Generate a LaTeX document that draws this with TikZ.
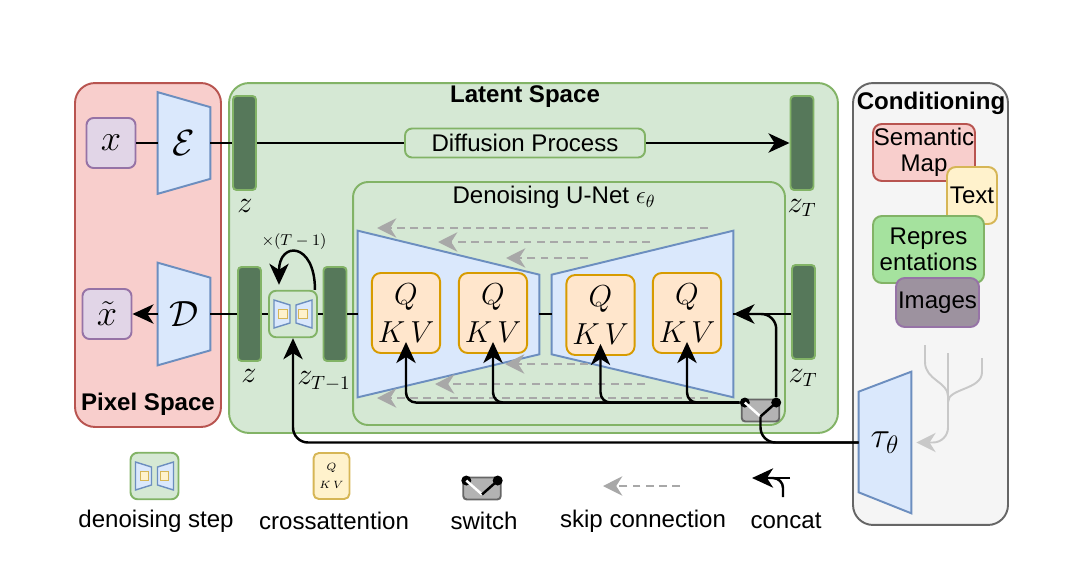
\documentclass[tikz,border=0pt]{standalone}
\usepackage{amsmath}
\usepackage{fontspec}
\setmainfont{Liberation Sans}
\usetikzlibrary{arrows.meta,positioning,calc}

\definecolor{redfill}{HTML}{F8CECC}
\definecolor{reddraw}{HTML}{B85450}
\definecolor{greenfill}{HTML}{D5E8D4}
\definecolor{greendraw}{HTML}{82B366}
\definecolor{grayfill}{HTML}{F5F5F5}
\definecolor{graydraw}{HTML}{666666}
\definecolor{bluefill}{HTML}{DAE8FC}
\definecolor{bluedraw}{HTML}{6C8EBF}
\definecolor{orangefill}{HTML}{FFE6CC}
\definecolor{orangedraw}{HTML}{D79B00}
\definecolor{yellowfill}{HTML}{FFF2CC}
\definecolor{yellowdraw}{HTML}{D6B656}
\definecolor{purplefill}{HTML}{E1D5E7}
\definecolor{purpledraw}{HTML}{9673A6}
\definecolor{barfill}{HTML}{56785A}
\definecolor{reprfill}{HTML}{A5E29E}
\definecolor{imgfill}{HTML}{9D929F}
\definecolor{switchfill}{HTML}{B3B3B3}
\definecolor{skipgray}{HTML}{A8A8A8}
\definecolor{condgray}{HTML}{C8C8C8}

\begin{document}
\begin{tikzpicture}[x=0.02cm,y=-0.02cm,>={Stealth[length=12pt,width=11pt,inset=3.5pt]},
  font=\fontsize{13.7}{16}\selectfont,
  space/.style={line width=1.1pt,rounded corners=0.4cm,inner sep=0},
  title/.style={font=\fontsize{13.7}{16}\selectfont\bfseries},
  latent/.style={draw=greendraw,fill=barfill,line width=1.1pt,rounded corners=2pt,
    minimum width=0.46cm,minimum height=1.88cm,inner sep=0},
  zlabel/.style={font=\fontsize{16}{18}\selectfont},
  coder/.style={inner sep=0,minimum width=1.04cm,font=\fontsize{20}{24}\selectfont},
  part/.style={draw=bluedraw,fill=bluefill,line width=1.1pt},
  imgbox/.style={draw=purpledraw,fill=purplefill,line width=1.1pt,rounded corners=4pt,
    minimum width=0.98cm,minimum height=1cm,font=\fontsize{20}{24}\selectfont},
  attn/.style={draw=orangedraw,fill=orangefill,line width=1.1pt,rounded corners=5pt,
    minimum width=1.24cm,minimum height=1.6cm,align=center,font=\fontsize{17}{22}\selectfont},
  stepbox/.style={draw=greendraw,fill=greenfill,line width=1.1pt,rounded corners=4pt,
    minimum width=0.96cm,minimum height=0.93cm},
  switchbox/.style={draw=graydraw,fill=switchfill,line width=1.1pt,rounded corners=2pt,
    minimum width=0.75cm,minimum height=0.44cm},
  swdot/.style={circle,fill=black,inner sep=0,minimum size=0.2cm},
  conn/.style={line width=1.4pt},
  skip/.style={draw=skipgray,line width=1.1pt,dash pattern=on 4.5pt off 3pt,
    -{Stealth[length=11pt,width=11pt,inset=3.5pt]}},
  condline/.style={draw=condgray,line width=1.1pt},
  cond/.style={line width=1.1pt,rounded corners=5pt,align=center,inner sep=0,
    font=\fontsize{13.7}{15}\selectfont}
]
\useasboundingbox (0,0) rectangle (1070,581);

% spaces
\node[space,draw=reddraw,fill=redfill,minimum width=2.92cm,minimum height=6.88cm] (pixel) at (148,255) {};
\node[space,draw=greendraw,fill=greenfill,minimum width=12.18cm,minimum height=7cm] (latentsp) at (533.5,258) {};
\node[space,draw=graydraw,fill=grayfill,minimum width=3.1cm,minimum height=8.84cm] (condsp) at (930.5,304) {};
\node[space,draw=greendraw,fill=greenfill,rounded corners=0.3cm,minimum width=8.64cm,minimum height=4.86cm] (unetsp) at (569,303.5) {};

\node[title] at (148,404) {Pixel Space};
\node[title] at (525,97) {Latent Space};
\node[title] at (931,103) {Conditioning};
\node at (554,197) {Denoising U-Net $\epsilon_\theta$};

% pixel space
\node[imgbox] (xin) at (111,143) {$x$};
\node[imgbox] (xt) at (107,314) {$\tilde{x}$};
\node[coder,minimum height=2.02cm] (enc) at (184,143) {};
\draw[part] (enc.north west) -- ($(enc.north east)+(0,15)$) -- ($(enc.south east)+(0,-15)$)
  -- (enc.south west) -- cycle (enc.center) node[coder] {$\mathcal{E}$};
\node[coder,minimum height=2.04cm] (dec) at (184,314) {};
\draw[part] (dec.north west) -- ($(dec.north east)+(0,15)$) -- ($(dec.south east)+(0,-15)$)
  -- (dec.south west) -- cycle (dec.center) node[coder] {$\mathcal{D}$};

% latent space
\node[latent] (ztop) at (244.5,143) {};
\node[latent] (zTtop) at (802,143) {};
\node[latent] (zbot) at (249.5,314) {};
\node[latent] (zT1) at (335,314) {};
\node[latent] (zTbot) at (803.5,312) {};
\node[zlabel] at (245,206) {$z$};
\node[zlabel] at (249,376) {$z$};
\node[zlabel] at (324,381) {$z_{T-1}$};
\node[zlabel] at (802,208) {$z_T$};
\node[zlabel] at (803,378) {$z_T$};
\node[draw=greendraw,fill=greenfill,line width=1.1pt,rounded corners=4pt,
  minimum width=4.8cm,minimum height=0.58cm,inner sep=0] (diff) at (525,143) {Diffusion Process};

% U-Net
\node[coder,minimum width=3.62cm,minimum height=3.32cm] (unetL) at (448.5,314) {};
\draw[part] (unetL.north west) -- ($(unetL.north east)+(0,44)$) -- ($(unetL.south east)+(0,-43)$)
  -- (unetL.south west) -- cycle;
\node[coder,minimum width=3.62cm,minimum height=3.32cm] (unetR) at (642.5,314) {};
\draw[part] ($(unetR.north west)+(0,44)$) -- (unetR.north east) -- (unetR.south east)
  -- ($(unetR.south west)+(0,-43)$) -- cycle;
\foreach \ya/\xa/\xb in {228/708/377, 242/650/438, 258/588/506, 364/588/505, 384/645/435, 398/708/377}
  \draw[skip] (\xa,\ya) -- (\xb,\ya);
\node[attn] (qkv1) at (406,313) {$Q$\\$K\,V$};
\node[attn] (qkv2) at (493,313) {$Q$\\$K\,V$};
\node[attn] (qkv3) at (600.5,315) {$Q$\\$K\,V$};
\node[attn] (qkv4) at (687,313) {$Q$\\$K\,V$};

% denoising step and switch
\node[stepbox] (step) at (293,314) {};
\node[stepbox] (legstep) at (154.5,476) {};
\foreach \n in {step,legstep}
  \foreach \s in {-1,1} {
    \draw[part,line width=0.8pt] ($(\n)+(\s*19,-14)$) -- ($(\n)+(\s*3,-9)$) -- ($(\n)+(\s*3,9)$)
      -- ($(\n)+(\s*19,14)$) -- cycle;
    \node[draw=yellowdraw,fill=yellowfill,line width=0.8pt,inner sep=0,minimum size=0.17cm]
      at ($(\n)+(\s*10,0)$) {};
  }
\node[switchbox] (sw) at (760.5,410.5) {};
\node[switchbox] (legsw) at (482,488.5) {};
\foreach \n in {sw,legsw} {
  \node[swdot] (\n-l) at ($(\n.north west)+(4,4)$) {};
  \node[swdot] (\n-r) at ($(\n.north east)+(-4,4)$) {};
  \coordinate (\n-m) at ($(\n.south)+(0,-6)$);
  \draw[white,line width=1.4pt] (\n-l.center) -- (\n-m);
  \draw[conn] (\n-m) -- (\n-r.center);
}

% conditioning
\node[cond,draw=reddraw,fill=redfill,minimum width=2.04cm,minimum height=1.14cm] (sem) at (924,152.5) {Semantic\\Map};
\node[cond,draw=yellowdraw,fill=yellowfill,minimum width=1cm,minimum height=1.14cm] (text) at (972,195.5) {Text};
\node[cond,draw=greendraw,fill=reprfill,minimum width=2.22cm,minimum height=1.34cm] (repr) at (928.5,249.5) {Repres\\entations};
\node[cond,draw=purpledraw,fill=imgfill,minimum width=1.66cm,minimum height=0.98cm] (img) at (937.5,302.5) {Images};
\node[coder,minimum height=2.82cm] (tau) at (885,442.5) {};
\draw[part] ($(tau.north west)+(0,20)$) -- (tau.north east) -- (tau.south east)
  -- ($(tau.south west)+(0,-21)$) -- cycle (tau.center) node[coder] {$\tau_\theta$};
\coordinate (c1) at (925,345);
\coordinate (c2) at (948,353);
\coordinate (c3) at (982,358);
\draw[condline] (c1) -- ++(0,17) .. controls +(0,18) and +(0,-14) .. (948,396);
\draw[condline] (c3) -- ++(0,14) .. controls +(0,18) and +(0,-14) .. (948,402);
\draw[condline,rounded corners=0.3cm,-{Stealth[length=11pt,width=11pt,inset=3.5pt]}]
  (c2) |- ($(tau.east)+(5,0)$);

% connections
\draw[conn] (xin) -- (enc);
\draw[conn] (enc) -- (ztop);
\draw[conn] (ztop) -- (diff);
\draw[conn,->] (diff) -- (zTtop);
\draw[conn,->] (dec) -- (xt);
\draw[conn] (zbot) -- (dec);
\draw[conn] (zbot) -- (step);
\draw[conn] (step) -- (zT1);
\draw[conn] (zT1) -- (unetL);
\draw[conn] (unetL) -- (unetR);
\draw[conn,->] ($(step.north east)+(-3,0)$) .. controls +(0,-48) and +(0,-44) .. ($(step.north)+(-14,-5)$);
\node[font=\fontsize{9}{11}\selectfont] at (294,242) {$\times(T-1)$};
\draw[conn,->,rounded corners=0.3cm] (tau.west) -| (step.south);
\draw[conn,rounded corners=0.3cm] (sw-m) |- (tau.west);
\foreach \i in {1,...,4}
  \draw[conn,->,rounded corners=0.2cm] (sw-l) -| ($(qkv\i.south)+(0,-12)$);
\draw[conn] (zTbot.west |- unetR.east) -- (unetR.east);
\draw[conn,->,rounded corners=0.3cm] (sw-r) |- (unetR.east);

% legend
\node[draw=yellowdraw,fill=yellowfill,line width=1.1pt,rounded corners=3pt,minimum width=0.62cm,
  minimum height=0.92cm,align=center,font=\fontsize{6.5}{10}\selectfont] (legattn) at (331.5,476) {$Q$\\$K\,V$};
\coordinate (skip-a) at (680,486);
\coordinate (skip-b) at (603,486);
\draw[skip] (skip-a) -- (skip-b);
\coordinate (cat-a) at (790,478);
\coordinate (cat-b) at (752,478);
\coordinate (cat-c) at (783,497);
\draw[conn,->] (cat-a) -- (cat-b);
\draw[conn,rounded corners=0.2cm] (cat-c) |- ($(cat-b)+(12,0)$);
\node at (156,521) {denoising step};
\node at (334,521) {crossattention};
\node at (484,521) {switch};
\node at (643,521) {skip connection};
\node at (786,521) {concat};
\end{tikzpicture}
\end{document}
